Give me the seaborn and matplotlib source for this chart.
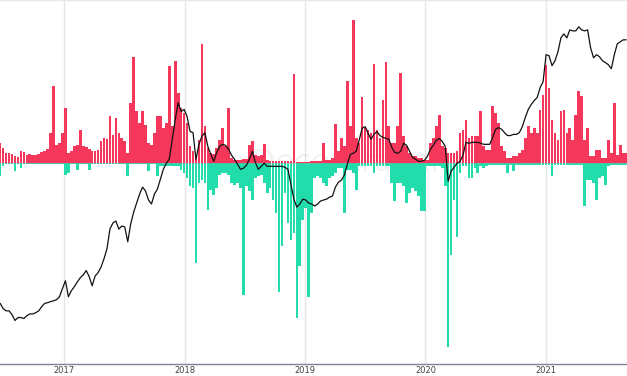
import numpy as np
import pandas as pd
import matplotlib
matplotlib.use("Agg")
import matplotlib.pyplot as plt
import matplotlib.dates as mdates
import seaborn as sns

# ---- data (one value per 9-day step) ----
start_date = "2016-06-20"
step_days = 9

pos_values = [
    20, 15, 10, 10, 9, 7, 6, 12, 11, 8, 9, 8, 8, 9, 11, 12, 14, 30, 77, 18,
    20, 30, 55, 10, 12, 17, 18, 33, 17, 16, 14, 12, 12, 13, 22, 25, 24, 47, 28, 45,
    30, 25, 22, 10, 60, 106, 52, 40, 52, 38, 20, 18, 30, 47, 47, 35, 40, 97, 37, 102,
    70, 55, 50, 40, 17, 12, 6, 23, 119, 37, 15, 10, 9, 15, 23, 35, 17, 55, 5, 3,
    3, 3, 4, 4, 18, 22, 8, 7, 8, 19, 3, 2, 2, 2, 2, 2, 2, 2, 2, 89,
    1, 1, 1, 1, 1, 2, 2, 2, 2, 20, 3, 3, 5, 39, 12, 25, 17, 82, 37, 143,
    25, 20, 66, 35, 33, 30, 99, 33, 25, 63, 101, 37, 20, 20, 37, 90, 27, 17, 10, 7,
    7, 5, 5, 3, 3, 20, 25, 37, 48, 17, 15, 10, 10, 10, 12, 30, 33, 43, 25, 27,
    27, 27, 52, 17, 13, 13, 57, 50, 40, 17, 12, 5, 5, 7, 7, 10, 13, 25, 37, 30,
    35, 30, 53, 68, 98, 75, 43, 30, 23, 52, 53, 30, 35, 23, 48, 72, 67, 23, 35, 7,
    7, 13, 13, 5, 5, 23, 10, 60, 8, 18, 10, 10,
]

neg_values = [
    13, 3, 1, 1, 1, 8, 1, 5, 1, 1, 1, 1, 1, 1, 1, 1, 1, 1, 1, 1,
    1, 1, 12, 10, 1, 1, 7, 1, 1, 1, 7, 1, 1, 1, 1, 1, 1, 1, 1, 1,
    1, 1, 1, 13, 1, 1, 1, 1, 1, 1, 8, 1, 1, 13, 3, 3, 3, 3, 3, 3,
    3, 7, 10, 15, 23, 25, 100, 20, 17, 20, 47, 27, 32, 25, 12, 10, 10, 12, 20, 22,
    20, 25, 132, 23, 28, 37, 15, 13, 12, 20, 30, 25, 37, 50, 129, 83, 30, 60, 77, 70,
    155, 103, 57, 45, 134, 50, 15, 13, 15, 20, 23, 15, 13, 10, 5, 5, 50, 7, 7, 10,
    27, 3, 3, 3, 3, 3, 10, 3, 3, 3, 3, 3, 20, 38, 20, 20, 23, 40, 30, 25,
    28, 33, 48, 48, 3, 3, 3, 3, 3, 5, 23, 184, 92, 37, 74, 10, 3, 3, 15, 15,
    5, 10, 3, 5, 3, 2, 2, 2, 2, 2, 2, 10, 2, 8, 2, 2, 2, 2, 2, 2,
    2, 2, 2, 2, 2, 2, 13, 2, 2, 2, 2, 2, 2, 2, 2, 2, 2, 43, 17, 17,
    20, 37, 15, 13, 22, 3, 2, 2, 2, 2, 2, 2,
]

price_usd = [
    710, 653, 630, 630, 593, 540, 566, 566, 557, 583, 600, 600, 612, 630, 674, 710, 718, 730, 740, 753,
    790, 900, 1020, 790, 870, 927, 1000, 1070, 1120, 1200, 1090, 940, 1100, 1160, 1270, 1450, 1700, 2330, 2570, 2650,
    2330, 2450, 2410, 1900, 2530, 3060, 3530, 4080, 4560, 4280, 3710, 3480, 4080, 4420, 5180, 6060, 6680, 7120, 9790, 13400,
    17600, 15300, 15800, 14100, 11100, 10900, 7120, 9040, 10300, 10900, 8750, 7700, 6890, 7950, 8750, 9040, 8890, 8340, 7590, 7120,
    6580, 6060, 6170, 6470, 7120, 8090, 6780, 6060, 6360, 6680, 6360, 6360, 6360, 6360, 6360, 6360, 6260, 6060, 4780, 3760,
    3310, 3480, 3760, 3710, 3530, 3480, 3370, 3480, 3650, 3710, 3760, 3880, 3950, 4560, 4930, 5090, 5520, 6580, 7700, 7830,
    8090, 9630, 11700, 12000, 10800, 9790, 10600, 11100, 10400, 10100, 9940, 9790, 8610, 7950, 7830, 8090, 9190, 8890, 8090, 7350,
    7120, 6890, 6890, 7000, 7460, 8340, 8890, 9630, 9940, 9480, 8750, 5010, 5880, 6260, 6680, 6890, 7590, 9330, 9190, 9330,
    9330, 9330, 9190, 9040, 9040, 9040, 10100, 11500, 11800, 11500, 10900, 10400, 10400, 10600, 10600, 10900, 12000, 13900, 15800, 17100,
    18200, 19100, 22400, 24600, 37900, 37300, 31800, 34400, 39700, 49600, 52900, 49600, 56400, 55500, 55500, 59200, 56400, 55500, 56400, 42400,
    36100, 37900, 36700, 34400, 33400, 32300, 30300, 37900, 45100, 46600, 48100, 48100,
]

year_ticks = ["2017-01-01", "2018-01-01", "2019-01-01", "2020-01-01", "2021-01-01"]
year_labels = ["2017", "2018", "2019", "2020", "2021"]

# ---- build table ----
dates = pd.date_range(start_date, periods=len(pos_values), freq=f"{step_days}D")
df = pd.DataFrame({"date": dates, "pos": pos_values,
                   "neg": [-v for v in neg_values], "price": price_usd})

sns.set_theme(style="white")
plt.rcParams["font.family"] = ["DejaVu Sans"]

RED = "#f5375c"
TEAL = "#22dcab"

fig = plt.figure(figsize=(6.27, 3.76), dpi=100)
ax = fig.add_axes([0.0, 0.031, 1.0, 0.969])

width = pd.Timedelta(days=step_days * 0.9)
ax.bar(df["date"], df["pos"], width=width, color=RED, linewidth=0, align="center", zorder=2)
ax.bar(df["date"], df["neg"], width=width, color=TEAL, linewidth=0, align="center", zorder=2)
ax.axhline(0, color="#9aa0a8", lw=0.5, zorder=3, alpha=0.6)

ax.set_ylim(-201.2, 163.3)
x0 = pd.Timestamp(start_date) - pd.Timedelta(days=0.5)
x1 = pd.Timestamp(start_date) + pd.Timedelta(days=1901.5)
ax.set_xlim(x0, x1)

ticks = pd.to_datetime(year_ticks)
ax.set_xticks(ticks)
ax.set_xticklabels(year_labels, fontsize=6, color="#444444")
ax.tick_params(axis="x", length=0, pad=1.5)
ax.set_yticks([])
for t in ticks:
    ax.axvline(t, color="#e6e6e6", lw=1.0, zorder=0)

for s in ["left", "right"]:
    ax.spines[s].set_visible(False)
ax.spines["top"].set_color("#e8e8e8")
ax.spines["top"].set_linewidth(1.0)
ax.spines["bottom"].set_color("#7d8490")
ax.spines["bottom"].set_linewidth(1.0)

ax.text(0.555, 0.555, "Decentrader", transform=ax.transAxes, ha="center", va="center",
        fontsize=22, color="#000000", alpha=0.05, zorder=1)

ax2 = ax.twinx()
sns.lineplot(data=df, x="date", y="price", ax=ax2, color="#111111", linewidth=0.9, zorder=5)
ax2.set_yscale("log")
ax2.set_ylim(267.7, 90950)
ax2.set_xlim(x0, x1)
ax2.set_yticks([])
ax2.set_yticks([], minor=True)
ax2.set_ylabel("")
ax2.set_xlabel("")
ax.set_xlabel("")
for s in ax2.spines.values():
    s.set_visible(False)

fig.savefig("out.png", dpi=100)
